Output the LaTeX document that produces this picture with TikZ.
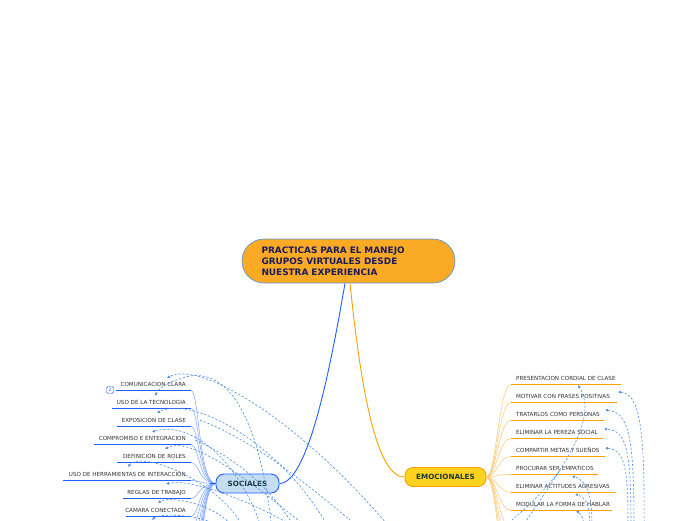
\documentclass[tikz,border=0pt]{standalone}
\usepackage{fontspec}
\setmainfont{DejaVu Sans}
\usetikzlibrary{calc,arrows.meta}
\definecolor{rootfill}{HTML}{FBAA25}
\definecolor{rootdraw}{HTML}{5B9BD5}
\definecolor{rootink}{HTML}{1A1A5E}
\definecolor{soc}{HTML}{1E5EFF}
\definecolor{socfill}{HTML}{C5DDF2}
\definecolor{socthin}{HTML}{7FA4FF}
\definecolor{emo}{HTML}{FFA000}
\definecolor{emofill}{HTML}{FFD21F}
\definecolor{emothin}{HTML}{FFC46E}
\definecolor{dashc}{HTML}{4A90E2}
\definecolor{ink}{HTML}{333333}
\definecolor{catink}{HTML}{17383A}
\tikzset{
  rootbox/.style={draw=rootdraw, line width=0.7pt, fill=rootfill, rounded corners=22pt,
    minimum width=213pt, minimum height=44pt, text width=174pt, inner xsep=19.5pt,
    align=left, font=\fontsize{8.9}{11}\selectfont\bfseries, text=rootink},
  catbox/.style={line width=0.9pt, rounded corners=8pt, minimum height=19pt, inner ysep=0pt,
    font=\fontsize{7.2}{8}\selectfont\bfseries, text=catink},
  item/.style={inner sep=0pt, font=\fontsize{5.6}{6}\selectfont, text=ink},
  lline/.style={soc, line width=1.3pt},
  rline/.style={emo, line width=1.3pt},
  lconn/.style={socthin, line width=0.5pt},
  rconn/.style={emothin, line width=0.5pt},
  darrow/.style={draw=dashc, line width=0.6pt, dash pattern=on 2.2pt off 1.8pt, -{Latex[length=3pt,width=3pt]}},
  dline/.style={draw=dashc, line width=0.6pt, dash pattern=on 2.2pt off 1.8pt},
  badge/.style={draw=soc, line width=0.4pt, rounded corners=1.5pt, minimum size=7pt, inner sep=0pt,
    font=\fontsize{4.5}{5}\selectfont, text=soc}
}
\begin{document}
\begin{tikzpicture}[x=1pt,y=-1pt]
\clip (0,0) rectangle (696,520);
\fill[white] (0,0) rectangle (696,520);

% root and categories
\node[rootbox] (root) at (348.5,261) {PRACTICAS PARA EL MANEJO\\ GRUPOS VIRTUALES DESDE\\ NUESTRA EXPERIENCIA};
\node[catbox, draw=soc, fill=socfill, minimum width=63pt] (soc) at (247.5,483.5) {SOCIALES};
\node[catbox, draw=emo, fill=emofill, minimum width=81pt] (emo) at (445.5,477) {EMOCIONALES};

\coordinate (rs) at ($(root.south)+(-3.5,0)$);
\coordinate (re) at ($(root.south)+(1.5,0)$);
\draw[soc, line width=0.9pt] (rs) .. controls (330,370) and (308,483) .. (soc.east);
\draw[emo, line width=0.9pt] (re) .. controls (362,400) and (378,477) .. (emo.west);

% left items: name/text/center y/line start x
\foreach \n/\t/\y/\s in {l1/COMUNICACION CLARA/384/116, l2/USO DE LA TECNOLOGIA/402/112,
    l3/EXPOSICIÓN DE CLASE/420/117, l4/COMPROMISO E ENTEGRACION/438/94,
    l5/DEFINICIÓN DE ROLES/456/117, l6/USO DE HERRAMIENTAS DE INTERACCIÓN/474/63,
    l7/REGLAS DE TRABAJO/492/123, l8/CAMARA CONECTADA/510/126}{
  \node[item, anchor=base east] (\n) at (186,\y+2) {\t};
  \coordinate (\n s) at (\s,\y+6.5);
  \coordinate (\n e) at (191,\y+6.5);
  \draw[lline] (\n s) -- (\n e);
  \draw[lconn] (\n e) .. controls (199,\y+6) and (199,483.5) .. (soc.west);
}
% hidden left items below the frame
\foreach \y in {528,546,564,582,600,618}{
  \coordinate (lx\y) at (191,\y);
  \draw[lconn] (soc.west) .. controls (200,483.5) and (199,\y) .. (lx\y);
}
\draw[soc, line width=1.3pt] (soc.west) -- ++(-6,0);
\node[badge] (b2) at (110,390) {2};

% right items
\foreach \n/\t/\y/\e in {r1/PRESENTACION CORDIAL DE CLASE/378/621, r2/MOTIVAR CON FRASES POSITIVAS/396/617,
    r3/TRATARLOS COMO PERSONAS/414/604, r4/ELIMINAR LA PEREZA SOCIAL/432/603,
    r5/COMPARTIR METAS Y SUEÑOS/450/605, r6/PROCURAR SER EMPATICOS/468/598,
    r7/ELIMINAR ACTITUDES AGRESIVAS/486/616, r8/MODULAR LA FORMA DE HABLAR/504/612}{
  \node[item, anchor=base west] (\n) at (516,\y+2) {\t};
  \coordinate (\n s) at (511,\y+6.5);
  \coordinate (\n e) at (\e,\y+6.5);
  \draw[rline] (\n s) -- (\n e);
  \draw[rconn] (emo.east) .. controls (496,477) and (499,\y+6) .. (\n s);
}
\foreach \y in {528,546,564,582}{
  \coordinate (rx\y) at (511,\y);
  \draw[rconn] (emo.east) .. controls (497,477) and (499,\y) .. (rx\y);
}

% dashed relation arrows, right side
\coordinate (q1) at (644,530); \coordinate (q2) at (634,530);
\coordinate (q3) at (631,530); \coordinate (q4) at (628,530);
\coordinate (q5) at (520,530); \coordinate (q6) at (592,530);
\coordinate (q7) at (590,530); \coordinate (q8) at (584,530);
\draw[darrow] (q1) .. controls (645,430) and (640,393) .. (618,392);
\draw[darrow] (q2) .. controls (634,440) and (630,412) .. (605,410);
\draw[darrow] (q3) .. controls (631,455) and (628,430) .. (604,429);
\draw[darrow] (q4) .. controls (628,470) and (626,450) .. (605,448);
\draw[darrow] (q5) .. controls (560,470) and (600,420) .. (578,385);
\draw[darrow] (q6) .. controls (592,500) and (590,482) .. (572,476);
\draw[darrow] (q7) .. controls (590,510) and (588,498) .. (575,494);
\draw[darrow] (q8) .. controls (584,520) and (582,514) .. (576,511);
\draw[dline] (560,470) .. controls (545,490) and (530,505) .. (512,520);

% dashed relation arrows, left side
\coordinate (p1) at (392,530); \coordinate (p2) at (330,530);
\coordinate (p3) at (272,530); \coordinate (p4) at (262,530);
\coordinate (p5) at (310,530); \coordinate (p6) at (245,530);
\coordinate (p7) at (300,530); \coordinate (p8) at (235,530);
\coordinate (p9) at (225,530);
\draw[darrow] (p1) .. controls (300,420) and (200,360) .. (167,378);
\draw[darrow] (p3) .. controls (260,420) and (230,370) .. (190,376) .. controls (180,378) and (160,385) .. (155,396);
\draw[darrow] (p2) .. controls (280,440) and (190,395) .. (157,413);
\draw[darrow] (p4) .. controls (240,460) and (190,420) .. (152,432);
\draw[darrow] (p5) .. controls (250,480) and (190,435) .. (165,449);
\draw[darrow] (p6) .. controls (220,480) and (140,450) .. (128,467);
\draw[darrow] (p7) .. controls (250,500) and (190,478) .. (166,484);
\draw[darrow] (p8) .. controls (220,505) and (170,495) .. (158,503);
\draw[darrow] (p9) .. controls (210,515) and (160,512) .. (152,520);
\draw[dline] (200,420) .. controls (250,440) and (290,470) .. (350,520);
\draw[dline] (195,440) .. controls (240,460) and (270,490) .. (290,520);
\end{tikzpicture}
\end{document}
